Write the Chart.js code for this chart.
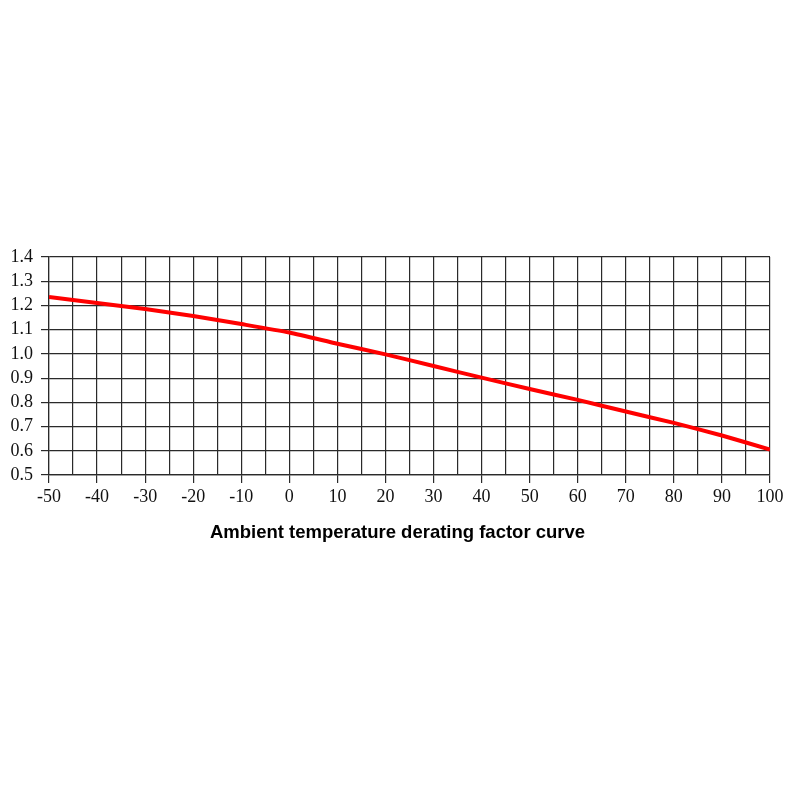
<!DOCTYPE html>
<html>
<head>
<meta charset="utf-8">
<script src="https://cdn.jsdelivr.net/npm/chart.js@4/dist/chart.umd.min.js"></script>
<style>
  html, body { margin: 0; padding: 0; background: #fff; }
  #wrap { width: 800px; height: 800px; }
</style>
</head>
<body>
<div id="wrap"><canvas id="c" width="800" height="800"></canvas></div>
<script>
const temperatures = [-50, -40, -30, -20, -10, 0, 10, 20, 30, 40, 50, 60, 70, 80, 90, 100];
const deratingFactor = [1.235, 1.21, 1.185, 1.156, 1.123, 1.088, 1.042, 0.998, 0.95, 0.902, 0.855, 0.81, 0.762, 0.715, 0.663, 0.605];
const xTickRange = [-50, 100];
const yTickRange = [0.5, 1.4];
const chartTitle = 'Ambient temperature derating factor curve';

const points = temperatures.map((t, i) => ({ x: t, y: deratingFactor[i] }));
const gridColor = '#2a2a2a';
const labelFont = { family: '"Liberation Serif", "Times New Roman", serif', size: 18 };

// Caption drawn centred on the page width (like the reference), below the x axis.
const captionPlugin = {
  id: 'caption',
  afterDraw(chart) {
    const ctx = chart.ctx;
    const xScale = chart.scales.x;
    ctx.save();
    ctx.font = 'bold 18.5px "Liberation Sans", Arial, sans-serif';
    ctx.fillStyle = '#000';
    ctx.textAlign = 'center';
    ctx.textBaseline = 'middle';
    ctx.fillText(chartTitle, chart.width / 2 - 2.5, xScale.bottom + 18);
    ctx.restore();
  }
};

new Chart(document.getElementById('c'), {
  type: 'line',
  data: {
    datasets: [{
      data: points,
      borderColor: '#ff0000',
      borderWidth: 4,
      pointRadius: 0,
      tension: 0.2,
      fill: false
    }]
  },
  options: {
    responsive: false,
    animation: false,
    layout: { padding: { top: 257, right: 30, left: 0, bottom: 285 } },
    plugins: {
      legend: { display: false },
      tooltip: { enabled: false },
      title: { display: false }
    },
    scales: {
      x: {
        type: 'linear',
        min: xTickRange[0],
        max: xTickRange[1],
        afterFit: s => { s.height = 40; },
        ticks: {
          stepSize: 5,
          autoSkip: false,
          maxRotation: 0,
          color: '#111',
          font: labelFont,
          padding: 3,
          callback: v => (v % 10 === 0 ? String(v) : '')
        },
        grid: {
          color: gridColor,
          lineWidth: 1.2,
          tickLength: 8,
          tickColor: ctx => (ctx.tick && ctx.tick.value % 10 === 0 ? gridColor : 'rgba(0,0,0,0)')
        },
        border: { color: gridColor, width: 1.2 }
      },
      y: {
        type: 'linear',
        min: yTickRange[0],
        max: yTickRange[1],
        afterFit: s => { s.width = 49; },
        ticks: {
          stepSize: 0.1,
          autoSkip: false,
          color: '#111',
          font: labelFont,
          padding: 8,
          callback: v => v.toFixed(1)
        },
        grid: {
          color: gridColor,
          lineWidth: 1.2,
          tickLength: 8,
          tickColor: gridColor
        },
        border: { color: gridColor, width: 1.2 }
      }
    }
  },
  plugins: [captionPlugin]
});
</script>
</body>
</html>
